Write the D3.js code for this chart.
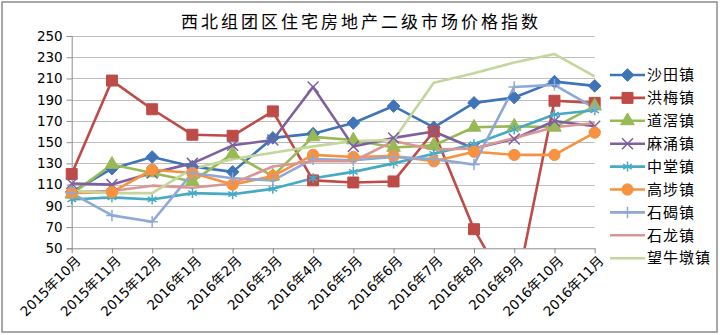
<!DOCTYPE html>
<html><head><meta charset="utf-8">
<script src="https://cdn.jsdelivr.net/npm/d3@7/dist/d3.min.js"></script>
<style>
html,body{margin:0;padding:0;background:#fff;}
svg{display:block;}
text{font-family:"DejaVu Sans","Noto Sans CJK SC",sans-serif;fill:#000;}
.cjk{font-family:"Noto Sans CJK SC",sans-serif;}
</style></head>
<body>
<svg id="c" width="720" height="335"></svg>
<script>
const title = "西北组团区住宅房地产二级市场价格指数";
const categories = ["2015年10月","2015年11月","2015年12月","2016年1月","2016年2月","2016年3月","2016年4月","2016年5月","2016年6月","2016年7月","2016年8月","2016年9月","2016年10月","2016年11月"];
const yTicks = [50,70,90,110,130,150,170,190,210,230,250];
const seriesNames = ["沙田镇","洪梅镇","道滘镇","麻涌镇","中堂镇","高埗镇","石碣镇","石龙镇","望牛墩镇"];
const shatian   = [103,125,136,127,122,154,158,168,184,164,187,192,207,203];
const hongmei   = [120,208,181,157,156,179,114,112,113,160,68,2,189,187];
const daojiao   = [101,129,121,113,139,118,155,152,145,147,164,165,164,184];
const machong   = [111,110,121,130,147,152,202,146,154,160,144,153,170,165];
const zhongtang = [96,98,96,102,101,106,116,122,130,139,148,162,176,180];
const gaobu     = [102,103,124,121,110,118,138,136,137,132,141,138,138,159];
const shijie    = [102,81,75,121,116,114,134,133,136,134,129,202,204,182];
const shilong   = [103,104,109,107,111,127,132,132,151,143,144,154,164,168];
const wangniudun= [104,102,102,125,134,140,146,151,152,206,215,225,233,212];
const seriesValues = [shatian,hongmei,daojiao,machong,zhongtang,gaobu,shijie,shilong,wangniudun];

const colors = ["#3F75B8","#BE4B48","#98B954","#7D60A0","#46AAC5","#F69240","#8EA9D8","#D99694","#C3D69B"];
const squareDiamond = {draw(ctx,size){const r=Math.sqrt(size/2);ctx.moveTo(0,-r);ctx.lineTo(r,0);ctx.lineTo(0,r);ctx.lineTo(-r,0);ctx.closePath();}};
const symbols = [
  {t:squareDiamond, s:80, fill:true},
  {t:d3.symbolSquare, s:120, fill:true},
  {t:d3.symbolTriangle, s:80, fill:true},
  {t:d3.symbolTimes, s:80, fill:false},
  {t:d3.symbolAsterisk, s:70, fill:false},
  {t:d3.symbolCircle, s:100, fill:true},
  {t:d3.symbolPlus, s:45, fill:false},
  null, null
];

const svg = d3.select("#c");
svg.append("rect").attr("x",2).attr("y",2).attr("width",715).attr("height",330)
  .attr("fill","#fff").attr("stroke","#8c8c8c").attr("stroke-width",1.5);

const x = d3.scalePoint().domain(categories).range([71.7,594.7]);
const y = d3.scaleLinear().domain([50,250]).range([248.3,36]);

svg.append("text").attr("class","cjk").attr("x",361).attr("y",28).attr("text-anchor","middle")
  .style("font-size","17px").style("letter-spacing","3px").text(title);

svg.append("g").selectAll("line").data(yTicks.filter(d=>d>50)).join("line")
  .attr("x1",71.7).attr("x2",594.7).attr("y1",d=>Math.round(y(d))+0.5).attr("y2",d=>Math.round(y(d))+0.5)
  .attr("stroke","#bdbdbd").attr("stroke-width",1);

const yAxis = svg.append("g").attr("transform","translate(71.7,0)")
  .call(d3.axisLeft(y).tickValues(yTicks).tickSize(5).tickPadding(4));
yAxis.select(".domain").attr("stroke","#8c8c8c");
yAxis.selectAll(".tick line").attr("stroke","#8c8c8c");
yAxis.selectAll("text").style("font-size","13.5px").attr("fill","#000");

const xAxis = svg.append("g").attr("transform","translate(0,248.3)")
  .call(d3.axisBottom(x).tickSize(5).tickSizeOuter(0));
xAxis.select(".domain").attr("stroke","#8c8c8c");
xAxis.selectAll(".tick line").attr("stroke","#8c8c8c");
xAxis.selectAll("text").style("font-size","13.5px").attr("fill","#000")
  .attr("text-anchor","end").attr("dy","0.35em").attr("y",0)
  .attr("transform","translate(6,10) rotate(-45)");

svg.append("clipPath").attr("id","clip").append("rect")
  .attr("x",60).attr("y",30).attr("width",560).attr("height",218.3);

const plot = svg.append("g").attr("clip-path","url(#clip)");
const line = d3.line().x((d,i)=>x(categories[i])).y(d=>y(d));

seriesValues.forEach((vals,k)=>{
  plot.append("path").datum(vals).attr("d",line).attr("fill","none")
    .attr("stroke",colors[k]).attr("stroke-width",2.6).attr("stroke-linejoin","round");
});
seriesValues.forEach((vals,k)=>{
  const sym = symbols[k];
  if(!sym) return;
  plot.append("g").selectAll("path").data(vals).join("path")
    .attr("transform",(d,i)=>`translate(${x(categories[i])},${y(d)})`)
    .attr("d",d3.symbol().type(sym.t).size(sym.s))
    .attr("fill",sym.fill?colors[k]:"none")
    .attr("stroke",colors[k]).attr("stroke-width",sym.fill?1:1.5);
});

const lg = svg.append("g");
seriesNames.forEach((n,k)=>{
  const yy = 75 + k*22.9;
  lg.append("line").attr("x1",610).attr("x2",645).attr("y1",yy).attr("y2",yy)
    .attr("stroke",colors[k]).attr("stroke-width",2.6);
  const sym = symbols[k];
  if(sym){
    lg.append("path").attr("transform",`translate(627.5,${yy})`)
      .attr("d",d3.symbol().type(sym.t).size(sym.s))
      .attr("fill",sym.fill?colors[k]:"none")
      .attr("stroke",colors[k]).attr("stroke-width",sym.fill?1:1.5);
  }
  lg.append("text").attr("class","cjk").attr("x",647).attr("y",yy).attr("dy","0.35em")
    .style("font-size","15px").style("letter-spacing","1px").text(n);
});
</script>
</body></html>
